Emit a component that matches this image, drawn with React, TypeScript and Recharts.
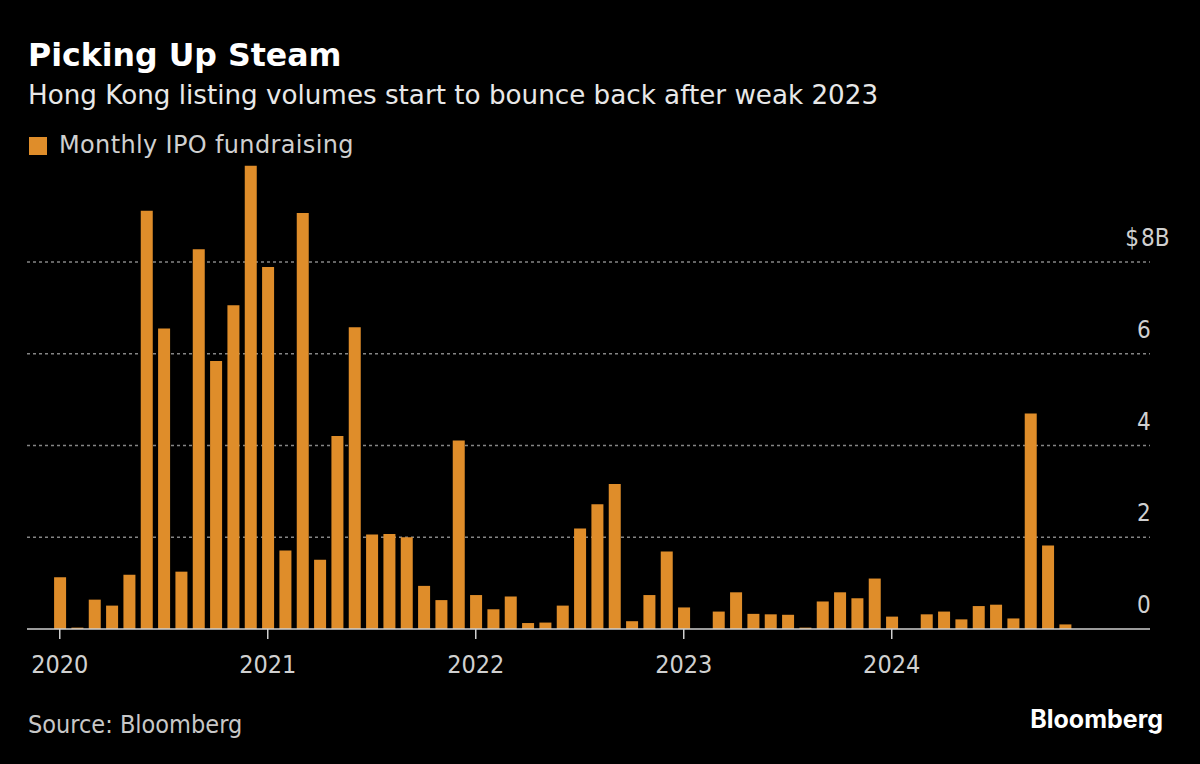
import { Bar, BarChart, CartesianGrid, XAxis, YAxis } from 'recharts';

// monthly IPO fundraising, $B, Jan 2020 - Nov 2024
const fundraising2020 = [1.13, 0.03, 0.64, 0.51, 1.18, 9.12, 6.55, 1.25, 8.28, 5.84, 7.06, 10.1];
const fundraising2021 = [7.89, 1.71, 9.07, 1.51, 4.21, 6.58, 2.06, 2.07, 2.0, 0.94, 0.63, 4.11];
const fundraising2022 = [0.74, 0.43, 0.71, 0.13, 0.14, 0.51, 2.19, 2.72, 3.16, 0.17, 0.74, 1.69];
const fundraising2023 = [0.47, 0, 0.38, 0.8, 0.33, 0.32, 0.31, 0.03, 0.6, 0.8, 0.67, 1.1];
const fundraising2024 = [0.27, 0, 0.32, 0.38, 0.21, 0.5, 0.53, 0.23, 4.7, 1.82, 0.1];

const yearLabels = ['2020', '2021', '2022', '2023', '2024'];
const yearTicks = [0, 12, 24, 36, 48];
const valueTicks = [0, 2, 4, 6, 8];
const gridValues = [2, 4, 6, 8];

const values = [
  ...fundraising2020,
  ...fundraising2021,
  ...fundraising2022,
  ...fundraising2023,
  ...fundraising2024,
];
const data = values.map((v, i) => ({ month: i, ipo: v }));

const FONT = '"DejaVu Sans", sans-serif';
const NARROW = '"DejaVu Sans Condensed", "DejaVu Sans", sans-serif';
const ORANGE = '#df8d2a';

function ValueTick(props: any) {
  const { y, payload } = props;
  const base = y - 16;
  const common = { fill: '#d0d0d0', fontSize: 24, fontFamily: NARROW, style: { fontStretch: 'condensed' } };
  if (payload.value === 8) {
    return (
      <g>
        <text x={1139} y={base} textAnchor="end" {...common}>
          $
        </text>
        <text x={1141} y={base} textAnchor="start" {...common}>
          8B
        </text>
      </g>
    );
  }
  return (
    <text x={1137} y={base} textAnchor="start" {...common}>
      {payload.value}
    </text>
  );
}

export default function App() {
  const txt = (top: number, size: number, color: string, extra: any = {}) => ({
    position: 'absolute' as const,
    top,
    left: 28,
    fontSize: size,
    lineHeight: `${size}px`,
    color,
    fontFamily: FONT,
    whiteSpace: 'nowrap' as const,
    ...extra,
  });

  return (
    <div style={{ position: 'fixed', left: 0, top: 0, width: 1200, height: 764, background: '#000', overflow: 'hidden' }}>
      <div style={txt(40, 31.6, '#fff', { fontWeight: 'bold' })}>Picking Up Steam</div>
      <div style={txt(82, 26.2, '#e8e8e8')}>Hong Kong listing volumes start to bounce back after weak 2023</div>
      <div style={{ position: 'absolute', left: 29, top: 137, width: 18, height: 18, background: ORANGE }} />
      <div style={txt(133, 24, '#d0d0d0', { left: 59, letterSpacing: 0.35 })}>Monthly IPO fundraising</div>

      <div style={{ position: 'absolute', left: 0, top: 0 }}>
        <BarChart
          width={1200}
          height={764}
          data={data}
          margin={{ top: 124.4, right: 0, bottom: 95, left: 27 }}
        >
          <CartesianGrid
            vertical={false}
            horizontalValues={gridValues}
            stroke="#858585"
            strokeWidth={1.5}
            strokeDasharray="3 3"
          />
          <XAxis
            type="number"
            dataKey="month"
            domain={[-1.89, 62.9]}
            ticks={yearTicks}
            tickFormatter={(v: number) => yearLabels[yearTicks.indexOf(v)]}
            height={40}
            stroke="#cfcfcf"
            strokeWidth={1.5}
            tickSize={10}
            tickMargin={16}
            tick={{ fill: '#d0d0d0', fontSize: 25, fontFamily: NARROW, style: { fontStretch: 'condensed' } }}
          />
          <YAxis
            orientation="right"
            domain={[0, 11]}
            ticks={valueTicks}
            width={50}
            axisLine={false}
            tickLine={false}
            tick={<ValueTick />}
          />
          <Bar dataKey="ipo" fill={ORANGE} barSize={12} isAnimationActive={false} />
        </BarChart>
      </div>

      <div style={txt(712, 25, '#c8c8c8', { fontFamily: NARROW, fontStretch: 'condensed' })}>Source: Bloomberg</div>
      <div style={txt(707, 25, '#fff', { left: 'auto', right: 37, fontWeight: 'bold', fontFamily: 'Inter, Roboto, sans-serif' })}>
        Bloomberg
      </div>
    </div>
  );
}
